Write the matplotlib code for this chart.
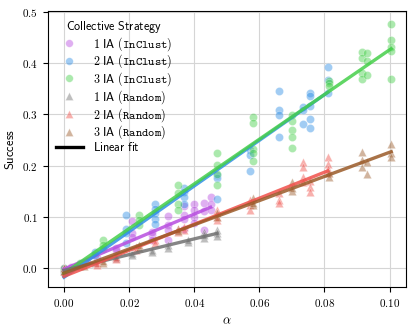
import matplotlib
matplotlib.use("Agg")
import matplotlib.pyplot as plt
import numpy as np
from matplotlib.lines import Line2D
from matplotlib.ticker import FuncFormatter

plt.rcParams["mathtext.fontset"] = "cm"
plt.rcParams["font.size"] = 8

# --- data (alpha, success) ---
inclust1_x = [0.0, 0.0, 0.002, 0.004, 0.007, 0.010, 0.016, 0.016, 0.021, 0.021, 0.021,
              0.027, 0.027, 0.027, 0.032, 0.032, 0.032, 0.032, 0.037, 0.037, 0.037, 0.037,
              0.040, 0.040, 0.040, 0.040, 0.043, 0.043, 0.043, 0.045, 0.045, 0.045]
inclust1_y = [-0.002, 0.0, 0.002, 0.005, 0.012, 0.020, 0.040, 0.035, 0.092, 0.068, 0.060,
              0.064, 0.055, 0.070, 0.101, 0.084, 0.074, 0.055, 0.121, 0.103, 0.095, 0.077,
              0.126, 0.114, 0.100, 0.089, 0.127, 0.112, 0.074, 0.139, 0.126, 0.114]

inclust2_x = [0.0, 0.0, 0.005, 0.0095, 0.0095, 0.019, 0.019, 0.019, 0.019,
              0.028, 0.028, 0.028, 0.028, 0.028, 0.037, 0.037, 0.037, 0.037,
              0.047, 0.047, 0.047, 0.057, 0.057, 0.057,
              0.066, 0.066, 0.066, 0.066, 0.0735, 0.0735, 0.0735,
              0.0755, 0.0755, 0.0755, 0.0755, 0.0755, 0.081, 0.081, 0.081]
inclust2_y = [-0.010, -0.005, 0.008, 0.032, 0.025, 0.103, 0.077, 0.069, 0.049,
              0.126, 0.116, 0.107, 0.095, 0.087, 0.157, 0.148, 0.139, 0.126,
              0.181, 0.175, 0.134, 0.230, 0.220, 0.189,
              0.345, 0.308, 0.298, 0.255, 0.314, 0.308, 0.281,
              0.341, 0.335, 0.316, 0.292, 0.273, 0.392, 0.368, 0.341]

inclust3_x = [0.0, 0.0, 0.005, 0.012, 0.012, 0.012, 0.023, 0.023, 0.023,
              0.035, 0.035, 0.035, 0.035, 0.047, 0.047, 0.047, 0.047,
              0.058, 0.058, 0.058, 0.058, 0.058, 0.070, 0.070, 0.070, 0.070, 0.070,
              0.0815, 0.0815, 0.0815, 0.0915, 0.0915, 0.0915, 0.0915,
              0.093, 0.093, 0.093, 0.1005, 0.1005, 0.1005, 0.1005, 0.1005]
inclust3_y = [-0.005, 0.0, 0.010, 0.055, 0.045, 0.038, 0.103, 0.094, 0.085,
              0.163, 0.146, 0.126, 0.114, 0.225, 0.201, 0.184, 0.162,
              0.295, 0.283, 0.233, 0.224, 0.209, 0.298, 0.287, 0.270, 0.255, 0.235,
              0.366, 0.361, 0.355, 0.422, 0.411, 0.381, 0.370,
              0.420, 0.405, 0.376, 0.476, 0.446, 0.431, 0.424, 0.370]

random1_x = [0.0, 0.0, 0.005, 0.0095, 0.016, 0.016, 0.021, 0.021, 0.027, 0.027,
             0.032, 0.032, 0.038, 0.038, 0.043, 0.043, 0.043, 0.047, 0.047, 0.047]
random1_y = [-0.005, 0.0, 0.004, 0.010, 0.019, 0.022, 0.029, 0.026, 0.036, 0.032,
             0.046, 0.039, 0.051, 0.055, 0.071, 0.058, 0.065, 0.074, 0.068, 0.062]

random2_x = [0.0, 0.0, 0.010, 0.010, 0.016, 0.016, 0.022, 0.022, 0.028, 0.028,
             0.035, 0.035, 0.037, 0.037, 0.047, 0.047, 0.047, 0.057, 0.057, 0.057,
             0.066, 0.066, 0.066, 0.0735, 0.0735, 0.0735, 0.0735, 0.0755, 0.0755, 0.0755,
             0.081, 0.081, 0.081, 0.081]
random2_y = [-0.005, 0.0, 0.006, 0.010, 0.022, 0.018, 0.042, 0.036, 0.055, 0.050,
             0.077, 0.070, 0.080, 0.075, 0.113, 0.100, 0.094, 0.133, 0.123, 0.114,
             0.146, 0.133, 0.128, 0.207, 0.197, 0.178, 0.168, 0.171, 0.159, 0.149,
             0.217, 0.204, 0.194, 0.185]

random3_x = [0.0, 0.006, 0.012, 0.012, 0.023, 0.023, 0.035, 0.035, 0.047, 0.047,
             0.058, 0.058, 0.058, 0.070, 0.070, 0.070, 0.0815, 0.0815,
             0.0915, 0.0915, 0.0915, 0.093, 0.093, 0.1005, 0.1005, 0.1005]
random3_y = [-0.005, 0.005, 0.010, 0.014, 0.040, 0.045, 0.077, 0.072, 0.100, 0.107,
             0.136, 0.123, 0.128, 0.168, 0.151, 0.157, 0.185, 0.178,
             0.227, 0.211, 0.198, 0.207, 0.184, 0.242, 0.224, 0.216]

SERIES = [
    ("1 IA", "InClust", inclust1_x, inclust1_y, "#b84ee0", "o"),
    ("2 IA", "InClust", inclust2_x, inclust2_y, "#2f8fe6", "o"),
    ("3 IA", "InClust", inclust3_x, inclust3_y, "#45cf4a", "o"),
    ("1 IA", "Random", random1_x, random1_y, "#707070", "^"),
    ("2 IA", "Random", random2_x, random2_y, "#f0504a", "^"),
    ("3 IA", "Random", random3_x, random3_y, "#9a5a28", "^"),
]

fig, ax = plt.subplots(figsize=(4.15, 3.3), dpi=100)
ax.set_axisbelow(True)
ax.grid(True, color="#d5d5d5", linewidth=0.8)

handles = []
for n_ia, strat, xs, ys, color, marker in SERIES:
    xs = np.asarray(xs)
    ys = np.asarray(ys)
    size = 34 if marker == "o" else 36
    ax.scatter(xs, ys, s=size, marker=marker, color=color, alpha=0.45,
               edgecolors="white", linewidths=0.4, zorder=2)
    slope, icpt = np.polyfit(xs, ys, 1)
    xf = np.array([xs.min(), xs.max()])
    ax.plot(xf, slope * xf + icpt, color=color, linewidth=2.4, alpha=0.85, zorder=3)
    label = r"$\mathsf{%s}$ $\mathtt{(%s)}$" % (n_ia.replace(" ", r"\ "), strat)
    handles.append(Line2D([], [], linestyle="none", marker=marker, markersize=5.5,
                          color=color, alpha=0.45, markeredgecolor="white",
                          markeredgewidth=0.4, label=label))
handles.append(Line2D([], [], color="black", linewidth=2.4,
                      label=r"$\mathsf{Linear\ fit}$"))

ax.xaxis.set_major_formatter(FuncFormatter(lambda v, p: r"$%.2f$" % v))
ax.yaxis.set_major_formatter(FuncFormatter(lambda v, p: r"$%.1f$" % v))
ax.set_xticks([0.0, 0.02, 0.04, 0.06, 0.08, 0.10])
ax.set_yticks([0.0, 0.1, 0.2, 0.3, 0.4, 0.5])
ax.set_xlim(-0.005, 0.105)
ax.set_ylim(-0.037, 0.502)
ax.set_xlabel(r"$\alpha$", fontsize=9)
ax.set_ylabel(r"$\mathsf{Success}$", fontsize=9)
ax.tick_params(labelsize=8)

ax.legend(handles=handles, title=r"$\mathsf{Collective\ Strategy}$", loc="upper left",
          frameon=False, fontsize=8.7, title_fontsize=8.7, handlelength=2.3,
          handletextpad=0.8, labelspacing=0.0, borderaxespad=0.25)

fig.subplots_adjust(left=0.115, right=0.978, top=0.967, bottom=0.13)
fig.savefig("out.png", dpi=100, facecolor="white")
